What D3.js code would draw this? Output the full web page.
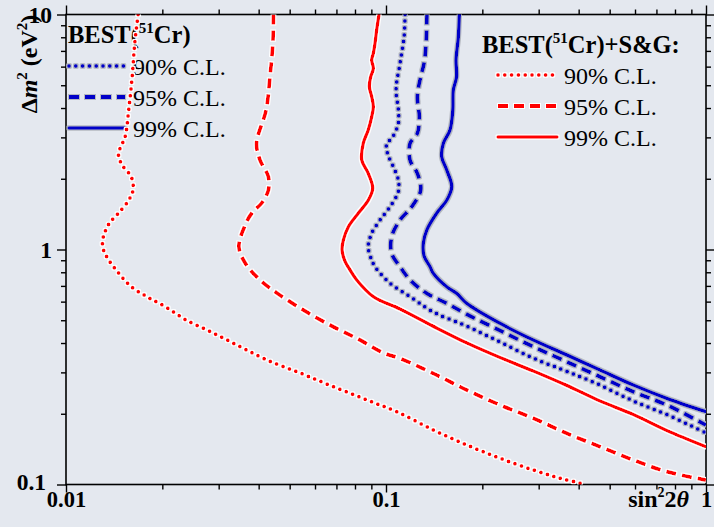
<!DOCTYPE html>
<html>
<head>
<meta charset="utf-8">
<script src="https://cdn.jsdelivr.net/npm/d3@7"></script>
<style>
  html, body { margin: 0; padding: 0; background: #e4e8ef; }
  svg { display: block; }
  text { font-family: "Liberation Serif", "Times New Roman", serif; fill: #000; }
</style>
</head>
<body>
<svg id="chart" width="714" height="527"></svg>
<script>
// Axis ticks and labels
const xTickValues = [0.01, 0.1, 1];
const xTickLabels = ["0.01", "0.1", "1"];
const yTickValues = [0.1, 1, 10];
const yTickLabels = ["0.1", "1", "10"];
const levelLabels = ["90% C.L.", "95% C.L.", "99% C.L."];

// Exclusion contours, points as [sin^2(2theta), dm^2 (eV^2)]
// BEST (51Cr) alone
const best90 = [[0.1147,10],[0.1139,8.04],[0.1106,6.20],[0.1075,4.77],[0.1093,3.92],[0.1093,3.44],[0.1042,2.97],[0.1005,2.83],[0.1010,2.57],[0.1054,2.25],[0.1093,1.976],[0.1093,1.762],[0.1029,1.52],[0.0958,1.335],[0.0902,1.172],[0.0880,1.027],[0.0902,0.902],[0.0924,0.845],[0.1029,0.718],[0.1189,0.630],[0.1405,0.542],[0.1788,0.472],[0.2272,0.404],[0.2886,0.345],[0.367,0.303],[0.4665,0.265],[0.5928,0.2266],[0.754,0.1985],[1.0,0.1656]];
const best95 = [[0.1343,10],[0.1334,7.54],[0.1315,6.20],[0.1284,5.44],[0.1253,4.47],[0.1271,3.67],[0.1253,3.12],[0.1189,2.83],[0.1189,2.40],[0.1253,2.11],[0.1284,1.79],[0.1203,1.52],[0.1106,1.335],[0.1042,1.134],[0.1042,0.963],[0.1106,0.845],[0.1189,0.742],[0.1341,0.651],[0.1548,0.590],[0.1788,0.530],[0.2272,0.452],[0.2886,0.386],[0.367,0.333],[0.4665,0.2875],[0.5928,0.248],[0.754,0.218],[1.0,0.179]];
const best99 = [[0.1695,10],[0.1683,8.04],[0.1655,6.40],[0.1662,5.44],[0.1623,4.77],[0.1617,3.92],[0.1585,3.225],[0.1511,2.83],[0.1493,2.48],[0.1548,2.18],[0.1605,1.85],[0.1548,1.62],[0.1440,1.426],[0.1341,1.21],[0.1308,1.063],[0.1315,0.938],[0.1373,0.845],[0.1405,0.792],[0.1548,0.694],[0.1663,0.651],[0.1788,0.590],[0.2272,0.485],[0.2886,0.412],[0.367,0.356],[0.4665,0.307],[0.5928,0.265],[0.754,0.2326],[1.0,0.204]];
// BEST (51Cr) combined with SAGE and GALLEX
const sg90 = [[0.0168,10],[0.0164,7.54],[0.0161,5.44],[0.0157,3.92],[0.0153,3.02],[0.0147,2.65],[0.0146,2.48],[0.0151,2.25],[0.0160,2.04],[0.0162,1.79],[0.0157,1.62],[0.0146,1.43],[0.0137,1.30],[0.0132,1.176],[0.0130,1.08],[0.0131,0.995],[0.0136,0.902],[0.0146,0.794],[0.0160,0.694],[0.0179,0.630],[0.0204,0.571],[0.0238,0.50],[0.0289,0.441],[0.0350,0.386],[0.0424,0.339],[0.0539,0.298],[0.0684,0.261],[0.0870,0.229],[0.108,0.204],[0.1405,0.1706],[0.1788,0.1473],[0.2272,0.1293],[0.2886,0.1153],[0.350,0.1063],[0.4217,0.1]];
const sg95 = [[0.0445,10],[0.0443,7.54],[0.0434,5.44],[0.0422,3.92],[0.0394,2.83],[0.0404,2.40],[0.0429,2.04],[0.0429,1.79],[0.0409,1.577],[0.0381,1.43],[0.0363,1.271],[0.0347,1.027],[0.0363,0.876],[0.0404,0.742],[0.0456,0.653],[0.0551,0.553],[0.0684,0.469],[0.0830,0.412],[0.0981,0.363],[0.1106,0.344],[0.1405,0.297],[0.1788,0.2524],[0.2272,0.218],[0.2886,0.1913],[0.367,0.1652],[0.4665,0.1448],[0.5928,0.1271],[0.754,0.1134],[1.0,0.1045]];
const sg99 = [[0.0951,10],[0.0935,8.59],[0.0924,7.54],[0.0913,6.84],[0.0902,6.40],[0.0913,5.90],[0.0896,5.44],[0.0887,4.93],[0.0902,4.47],[0.0913,4.05],[0.0902,3.67],[0.0880,3.225],[0.0849,2.83],[0.0840,2.40],[0.0880,2.11],[0.0909,1.822],[0.0880,1.62],[0.0819,1.426],[0.0763,1.25],[0.0736,1.098],[0.0729,0.995],[0.0742,0.902],[0.0772,0.818],[0.0810,0.742],[0.0913,0.630],[0.1106,0.558],[0.1402,0.472],[0.1791,0.400],[0.2272,0.347],[0.2886,0.304],[0.367,0.264],[0.4665,0.2266],[0.5928,0.1985],[0.754,0.1698],[1.0,0.1448]];

const W = 714, H = 527;
const plot = { left: 66, right: 706, top: 14.5, bottom: 484.5 };
const BLUE = "#0000c8", RED = "#ff0000";

const svg = d3.select("#chart");
const defs = svg.append("defs");

// halo filters: light rim round each curve
function halo(id, color, r) {
  const f = defs.append("filter").attr("id", id)
    .attr("filterUnits", "userSpaceOnUse")
    .attr("x", 0).attr("y", 0).attr("width", W).attr("height", H);
  f.append("feMorphology").attr("in", "SourceAlpha").attr("operator", "dilate").attr("radius", r).attr("result", "thick");
  f.append("feFlood").attr("flood-color", color).attr("result", "col");
  f.append("feComposite").attr("in", "col").attr("in2", "thick").attr("operator", "in").attr("result", "rim");
  const mg = f.append("feMerge");
  mg.append("feMergeNode").attr("in", "rim");
  mg.append("feMergeNode").attr("in", "SourceGraphic");
}
halo("haloRed", "#ffffff", 1.1);
halo("haloBlue", "#b4b8c0", 0.9);

defs.append("clipPath").attr("id", "plotClip").append("rect")
  .attr("x", plot.left).attr("y", plot.top)
  .attr("width", plot.right - plot.left).attr("height", plot.bottom - plot.top);

const x = d3.scaleLog().domain([0.01, 1]).range([plot.left, plot.right]);
const y = d3.scaleLog().domain([0.1, 10]).range([plot.bottom, plot.top]);

svg.append("rect").attr("width", W).attr("height", H).attr("fill", "#e4e8ef");

// ---- axes ----
const minorX = x.ticks().filter(v => !xTickValues.some(t => Math.abs(t - v) < 1e-9));
const minorY = y.ticks().filter(v => !yTickValues.some(t => Math.abs(t - v) < 1e-9));

function styleAxis(g) {
  g.select(".domain").remove();
  g.selectAll(".tick line").attr("stroke", "#000").attr("stroke-width", 1.4);
}

// bottom
svg.append("g").attr("transform", `translate(0,${plot.bottom})`)
  .call(d3.axisBottom(x).tickValues(minorX).tickSize(5).tickFormat(""))
  .call(styleAxis);
svg.append("g").attr("transform", `translate(0,${plot.bottom})`)
  .call(d3.axisBottom(x).tickValues(xTickValues).tickSize(8)
    .tickFormat((d, i) => xTickLabels[i]))
  .call(styleAxis)
  .call(g => g.selectAll("text").attr("y", 22).attr("dy", 0)
    .attr("font-size", 22.5).attr("font-weight", "bold")
    .attr("font-family", "Liberation Serif"));

// top
svg.append("g").attr("transform", `translate(0,${plot.top})`)
  .call(d3.axisTop(x).tickValues(minorX).tickSize(5).tickFormat(""))
  .call(styleAxis);
svg.append("g").attr("transform", `translate(0,${plot.top})`)
  .call(d3.axisTop(x).tickValues(xTickValues).tickSize(9).tickFormat(""))
  .call(styleAxis);

// left
svg.append("g").attr("transform", `translate(${plot.left},0)`)
  .call(d3.axisLeft(y).tickValues(minorY).tickSize(5).tickFormat(""))
  .call(styleAxis);
svg.append("g").attr("transform", `translate(${plot.left},0)`)
  .call(d3.axisLeft(y).tickValues(yTickValues).tickSize(9)
    .tickFormat((d, i) => yTickLabels[i]))
  .call(styleAxis)
  .call(g => g.selectAll("text").attr("x", d => d === 0.1 ? -20 : -14)
    .attr("dy", d => d === 0.1 ? "0.2em" : "0.33em")
    .attr("font-size", 23.5).attr("font-weight", "bold")
    .attr("font-family", "Liberation Serif"));

// right
svg.append("g").attr("transform", `translate(${plot.right},0)`)
  .call(d3.axisRight(y).tickValues(minorY).tickSize(5).tickFormat(""))
  .call(styleAxis);
svg.append("g").attr("transform", `translate(${plot.right},0)`)
  .call(d3.axisRight(y).tickValues(yTickValues).tickSize(9).tickFormat(""))
  .call(styleAxis);

// frame
svg.append("rect")
  .attr("x", plot.left).attr("y", plot.top)
  .attr("width", plot.right - plot.left).attr("height", plot.bottom - plot.top)
  .attr("fill", "none").attr("stroke", "#000").attr("stroke-width", 1.6);

// axis titles
const yTitle = svg.append("text")
  .attr("transform", "translate(37,64) rotate(-90)")
  .attr("text-anchor", "middle").attr("font-size", 24).attr("font-weight", "bold");
yTitle.append("tspan").text("\u0394");
yTitle.append("tspan").attr("font-style", "italic").text("m");
yTitle.append("tspan").attr("dy", -10).attr("font-size", 15).text("2");
yTitle.append("tspan").attr("dy", 10).text(" (eV");
yTitle.append("tspan").attr("dy", -10).attr("font-size", 15).text("2");
yTitle.append("tspan").attr("dy", 10).text(")");

const xTitle = svg.append("text")
  .attr("x", 689).attr("y", plot.bottom + 22)
  .attr("text-anchor", "end").attr("font-size", 24).attr("font-weight", "bold");
xTitle.append("tspan").text("sin");
xTitle.append("tspan").attr("dy", -10).attr("font-size", 14).text("2");
xTitle.append("tspan").attr("dy", 10).text("2");
xTitle.append("tspan").attr("font-style", "italic").text("\u03b8");

// ---- line styles ----
const styles = {
  "90": { dash: "0 6.8", width: 4, cap: "round" },
  "95": { dash: "10 6", width: 3.8, cap: "butt" },
  "99": { dash: null, width: 3.4, cap: "round" }
};

function stylePath(p, color, level) {
  const s = styles[level];
  p.attr("fill", "none").attr("stroke", color)
    .attr("stroke-width", s.width)
    .attr("stroke-linecap", s.cap)
    .attr("stroke-linejoin", "round");
  if (s.dash) p.attr("stroke-dasharray", s.dash);
  return p;
}

// ---- legends ----
const leftLegend = svg.append("g");
const lt = leftLegend.append("text").attr("x", 68).attr("y", 43)
  .attr("font-size", 24.5).attr("font-weight", "bold");
lt.append("tspan").text("BEST(");
lt.append("tspan").attr("dy", -10).attr("font-size", 15).text("51");
lt.append("tspan").attr("dy", 10).text("Cr)");

const rightLegend = svg.append("g");
const rt = rightLegend.append("text").attr("x", 482).attr("y", 53)
  .attr("font-size", 24.5).attr("font-weight", "bold");
rt.append("tspan").text("BEST(");
rt.append("tspan").attr("dy", -10).attr("font-size", 15).text("51");
rt.append("tspan").attr("dy", 10).text("Cr)+S&G:");

const levels = ["90", "95", "99"];
levels.forEach((lv, i) => {
  const ly = 66 + i * 31;
  leftLegend.append("line").attr("x1", 69).attr("x2", 125).attr("y1", ly).attr("y2", ly)
    .call(p => stylePath(p, BLUE, lv)).attr("filter", "url(#haloBlue)");
  leftLegend.append("text").attr("x", 133).attr("y", ly + 9)
    .attr("font-size", 24).text(levelLabels[i]);

  const ry = 75 + i * 31;
  rightLegend.append("line").attr("x1", 498).attr("x2", 557).attr("y1", ry).attr("y2", ry)
    .call(p => stylePath(p, RED, lv)).attr("filter", "url(#haloRed)");
  rightLegend.append("text").attr("x", 564).attr("y", ry + 9)
    .attr("font-size", 24).text(levelLabels[i]);
});

// ---- contours ----
const line = d3.line()
  .x(d => x(d[0])).y(d => y(d[1]))
  .curve(d3.curveCatmullRom.alpha(0.5));

const curves = [
  { data: sg90, color: RED, level: "90", halo: "haloRed" },
  { data: sg95, color: RED, level: "95", halo: "haloRed" },
  { data: sg99, color: RED, level: "99", halo: "haloRed" },
  { data: best90, color: BLUE, level: "90", halo: "haloBlue" },
  { data: best95, color: BLUE, level: "95", halo: "haloBlue" },
  { data: best99, color: BLUE, level: "99", halo: "haloBlue" }
];

const plotG = svg.append("g").attr("clip-path", "url(#plotClip)");
curves.forEach(c => {
  plotG.append("path").datum(c.data).attr("d", line)
    .call(p => stylePath(p, c.color, c.level))
    .attr("filter", `url(#${c.halo})`);
});
</script>
</body>
</html>
